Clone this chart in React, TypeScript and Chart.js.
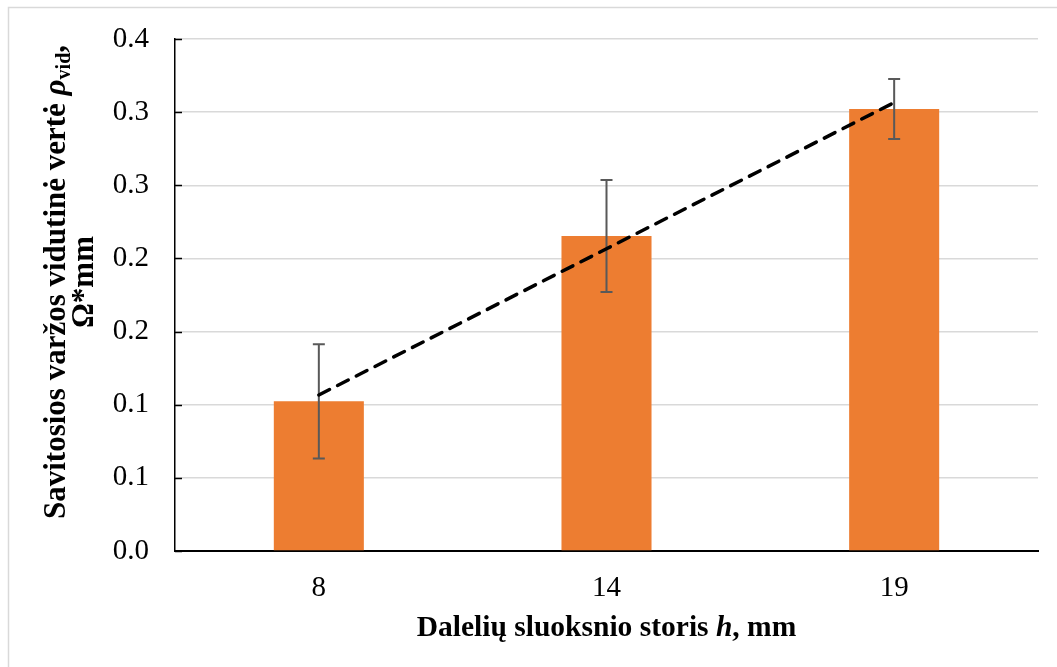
import React, { useEffect, useRef } from "react";
import { Chart, registerables } from "chart.js";

Chart.register(...registerables);

// Layer thickness categories (mm)
const categories = ["8", "14", "19"];
// Mean specific resistance per layer thickness
const meanValues = [0.1023, 0.2153, 0.3022];
// Half-length of the error bars (±)
const errorValues = [0.039, 0.0383, 0.0205];
// Y tick labels as printed (one decimal place)
const yTickLabels = ["0.0", "0.1", "0.1", "0.2", "0.2", "0.3", "0.3", "0.4"];

const FONT = "'Liberation Serif', 'Times New Roman', serif";
const BAR_COLOR = "#ED7D31";

// Least-squares linear trend over the category positions 1..n
function linearTrend(values: number[]): number[] {
  const n = values.length;
  const xs = values.map((_, i) => i + 1);
  const mx = xs.reduce((a, b) => a + b, 0) / n;
  const my = values.reduce((a, b) => a + b, 0) / n;
  let num = 0;
  let den = 0;
  for (let i = 0; i < n; i++) {
    num += (xs[i] - mx) * (values[i] - my);
    den += (xs[i] - mx) * (xs[i] - mx);
  }
  const slope = num / den;
  const intercept = my - slope * mx;
  return xs.map((x) => intercept + slope * x);
}

type Seg = { text: string; font: string; dy?: number };

function drawSegments(ctx: CanvasRenderingContext2D, segs: Seg[], cx: number, baseY: number) {
  let total = 0;
  const widths = segs.map((s) => {
    ctx.font = s.font;
    const w = ctx.measureText(s.text).width;
    total += w;
    return w;
  });
  let x = cx - total / 2;
  segs.forEach((s, i) => {
    ctx.font = s.font;
    ctx.fillText(s.text, x, baseY + (s.dy || 0));
    x += widths[i];
  });
}

const decorPlugin = {
  id: "decor",
  beforeDraw(chart: any) {
    const { ctx, width, height } = chart;
    ctx.save();
    ctx.fillStyle = "#ffffff";
    ctx.fillRect(0, 0, width, height);
    ctx.strokeStyle = "#d9d9d9";
    ctx.lineWidth = 1.5;
    ctx.strokeRect(8.5, 7.5, width + 20, height + 20);
    ctx.restore();
  },
  afterDatasetDraw(chart: any, args: any) {
    if (args.meta.type !== "bar") return;
    const { ctx } = chart;
    const yScale = chart.scales.y;
    ctx.save();
    ctx.strokeStyle = "#595959";
    ctx.lineWidth = 2;
    args.meta.data.forEach((bar: any, i: number) => {
      const x = bar.x;
      const yTop = yScale.getPixelForValue(meanValues[i] + errorValues[i]);
      const yBot = yScale.getPixelForValue(meanValues[i] - errorValues[i]);
      ctx.beginPath();
      ctx.moveTo(x, yTop);
      ctx.lineTo(x, yBot);
      ctx.moveTo(x - 6, yTop);
      ctx.lineTo(x + 6, yTop);
      ctx.moveTo(x - 6, yBot);
      ctx.lineTo(x + 6, yBot);
      ctx.stroke();
    });
    ctx.restore();
  },
  afterDraw(chart: any) {
    const { ctx, chartArea } = chart;
    const yScale = chart.scales.y;
    ctx.save();
    // inside tick marks on the value axis
    ctx.strokeStyle = "#000000";
    ctx.lineWidth = 1.5;
    yScale.ticks.forEach((t: any) => {
      const y = Math.round(yScale.getPixelForValue(t.value)) + 0.5;
      ctx.beginPath();
      ctx.moveTo(chartArea.left, y);
      ctx.lineTo(chartArea.left + 7, y);
      ctx.stroke();
    });

    ctx.fillStyle = "#000000";
    ctx.textBaseline = "alphabetic";
    ctx.textAlign = "left";

    // x axis title
    const cx = (chartArea.left + chartArea.right) / 2;
    drawSegments(
      ctx,
      [
        { text: "Dalelių sluoksnio storis ", font: `bold 29.5px ${FONT}` },
        { text: "h", font: `italic bold 29.5px ${FONT}` },
        { text: ", mm", font: `bold 29.5px ${FONT}` },
      ],
      cx,
      636
    );

    // y axis title (two lines, rotated)
    ctx.save();
    ctx.translate(0, 282);
    ctx.rotate(-Math.PI / 2);
    drawSegments(
      ctx,
      [
        { text: "Savitosios varžos vidutinė vertė ", font: `bold 31px ${FONT}` },
        { text: "ρ", font: `italic bold 31px ${FONT}` },
        { text: "vid", font: `bold 20px ${FONT}`, dy: 5 },
        { text: ",", font: `bold 31px ${FONT}` },
      ],
      0,
      65
    );
    drawSegments(ctx, [{ text: "Ω*mm", font: `bold 31px ${FONT}` }], 0, 93);
    ctx.restore();
    ctx.restore();
  },
};

export default function App() {
  const canvasRef = useRef<HTMLCanvasElement | null>(null);

  useEffect(() => {
    const canvas = canvasRef.current;
    if (!canvas) return;
    const trend = linearTrend(meanValues);
    const chart = new Chart(canvas, {
      type: "bar",
      data: {
        labels: categories,
        datasets: [
          {
            type: "line",
            data: trend,
            borderColor: "#000000",
            borderWidth: 3.5,
            borderDash: [12, 9],
            borderCapStyle: "round",
            pointRadius: 0,
            fill: false,
            order: 0,
          } as any,
          {
            type: "bar",
            data: meanValues,
            backgroundColor: BAR_COLOR,
            borderWidth: 0,
            barPercentage: 0.313,
            categoryPercentage: 1,
            order: 1,
          },
        ],
      },
      options: {
        responsive: false,
        maintainAspectRatio: false,
        animation: false,
        devicePixelRatio: 1,
        layout: { padding: { left: 0, top: 39, right: 19, bottom: 0 } },
        plugins: {
          legend: { display: false },
          tooltip: { enabled: false },
          title: { display: false },
        },
        scales: {
          x: {
            afterFit: (scale: any) => {
              scale.height = 116;
              scale.paddingTop = 0;
              scale.paddingBottom = 0;
            },
            grid: { drawOnChartArea: false, drawTicks: false },
            border: { display: true, color: "#000000", width: 2 },
            ticks: {
              color: "#000000",
              font: { family: FONT, size: 29 },
              padding: 20,
            },
          },
          y: {
            min: 0,
            max: 0.35,
            afterFit: (scale: any) => {
              scale.width = 175;
              scale.paddingTop = 0;
              scale.paddingBottom = 0;
            },
            afterBuildTicks: (scale: any) => {
              scale.ticks = yTickLabels.map((_, i) => ({ value: i * 0.05 }));
            },
            grid: { color: "#d9d9d9", lineWidth: 1.5, drawTicks: false },
            border: { display: true, color: "#000000", width: 1.5 },
            ticks: {
              color: "#000000",
              font: { family: FONT, size: 29 },
              padding: 26,
              callback: (_v: any, i: number) => yTickLabels[i],
            },
          },
        },
      },
      plugins: [decorPlugin],
    });
    return () => chart.destroy();
  }, []);

  return (
    <div style={{ position: "fixed", left: 0, top: 0, width: 1057, height: 667 }}>
      <canvas ref={canvasRef} width={1057} height={667} style={{ display: "block", width: 1057, height: 667 }} />
    </div>
  );
}
